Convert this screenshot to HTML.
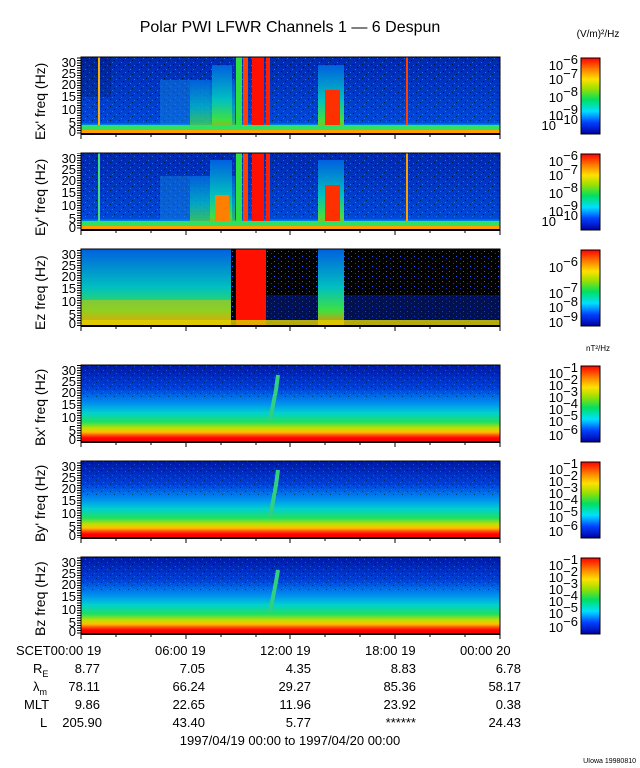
<!DOCTYPE html>
<html><head><style>
body{margin:0;background:#fff;}
svg{display:block;font-family:"Liberation Sans",sans-serif;}
</style></head><body>
<svg width="640" height="768" viewBox="0 0 640 768">
<defs>
<linearGradient id="cb" x1="0" y1="1" x2="0" y2="0">
<stop offset="0" stop-color="#0000a0"/><stop offset="0.15" stop-color="#0040ff"/>
<stop offset="0.3" stop-color="#00e0ff"/><stop offset="0.45" stop-color="#00e060"/>
<stop offset="0.6" stop-color="#a0e000"/><stop offset="0.72" stop-color="#ffe000"/>
<stop offset="0.85" stop-color="#ff8000"/><stop offset="1" stop-color="#ff0000"/>
</linearGradient>
<linearGradient id="bg" x1="0" y1="0" x2="0" y2="1">
<stop offset="0" stop-color="#0018a8"/><stop offset="0.3" stop-color="#0040d8"/>
<stop offset="0.5" stop-color="#0090f0"/><stop offset="0.62" stop-color="#00d0d0"/>
<stop offset="0.74" stop-color="#20e060"/><stop offset="0.82" stop-color="#c0e000"/>
<stop offset="0.87" stop-color="#ffc000"/><stop offset="0.92" stop-color="#ff4000"/>
<stop offset="0.95" stop-color="#ff0000"/><stop offset="1" stop-color="#ff0000"/>
</linearGradient>
<linearGradient id="eg" x1="0" y1="0" x2="0" y2="1">
<stop offset="0" stop-color="#0028b0"/><stop offset="0.85" stop-color="#0048d8"/>
<stop offset="0.9" stop-color="#00b0e8"/><stop offset="0.95" stop-color="#40e060"/>
<stop offset="1" stop-color="#ffd000"/>
</linearGradient>
<linearGradient id="gr" x1="0" y1="0" x2="0" y2="1">
<stop offset="0" stop-color="#0060e0"/><stop offset="0.5" stop-color="#00c0c0"/>
<stop offset="0.8" stop-color="#40e040"/><stop offset="1" stop-color="#ff8000"/>
</linearGradient>
<pattern id="dots" width="9" height="7" patternUnits="userSpaceOnUse">
<rect x="2" y="1" width="1" height="1" fill="#000"/><rect x="6" y="4" width="1" height="1" fill="#000"/><rect x="4" y="6" width="1" height="1" fill="#2090ff"/><rect x="8" y="2" width="1" height="1" fill="#2090ff"/>
</pattern>
<pattern id="spk" width="7" height="5" patternUnits="userSpaceOnUse">
<rect x="1" y="1" width="1" height="1" fill="#2060ff"/><rect x="5" y="3" width="1" height="1" fill="#1040c0"/>
</pattern>
<pattern id="yt" x="0" y="0" width="4" height="2.5" patternUnits="userSpaceOnUse">
<rect x="0" y="0" width="4" height="1" fill="#000"/>
</pattern>
<g id="xt" stroke="#000" stroke-width="1">
<line x1="81" y1="0" x2="81" y2="5"/><line x1="116" y1="0" x2="116" y2="3"/><line x1="151" y1="0" x2="151" y2="3"/><line x1="186" y1="0" x2="186" y2="5"/><line x1="221" y1="0" x2="221" y2="3"/><line x1="256" y1="0" x2="256" y2="3"/><line x1="290" y1="0" x2="290" y2="5"/><line x1="325" y1="0" x2="325" y2="3"/><line x1="360" y1="0" x2="360" y2="3"/><line x1="395" y1="0" x2="395" y2="5"/><line x1="430" y1="0" x2="430" y2="3"/><line x1="465" y1="0" x2="465" y2="3"/><line x1="500" y1="0" x2="500" y2="5"/>
</g>
</defs>
<text x="290" y="32" font-size="16" text-anchor="middle">Polar PWI LFWR Channels 1 — 6 Despun</text>
<text x="598" y="37" font-size="10" text-anchor="middle">(V/m)²/Hz</text>
<text x="598" y="351" font-size="8" text-anchor="middle">nT²/Hz</text>

<!-- Ex -->
<g>
<rect x="81" y="57" width="419" height="77" fill="url(#eg)"/>
<rect x="81" y="57" width="419" height="65" fill="url(#dots)" opacity="0.7"/>
<rect x="81" y="57" width="30" height="40" fill="#000" opacity="0.15"/>
<rect x="160" y="80" width="50" height="50" fill="#1080e0" opacity="0.5"/>
<rect x="190" y="80" width="45" height="54" fill="url(#gr)" opacity="0.7"/>
<rect x="212" y="65" width="20" height="69" fill="url(#gr)"/>
<rect x="236" y="57" width="6" height="77" fill="#30e040"/>
<rect x="243" y="57" width="5" height="77" fill="#ff4000"/>
<rect x="252" y="57" width="12" height="77" fill="#ff1000"/>
<rect x="266" y="57" width="4" height="77" fill="#ff2000"/>
<rect x="318" y="65" width="26" height="69" fill="url(#gr)"/>
<rect x="325" y="90" width="15" height="44" fill="#ff3000"/>
<rect x="98" y="57" width="2" height="77" fill="#ffb000"/>
<rect x="406" y="57" width="2" height="77" fill="#ff4000"/>
<rect x="81" y="125" width="419" height="5" fill="#30e060"/>
<rect x="81" y="130" width="419" height="4" fill="#ffa000"/>
</g>
<!-- Ey -->
<g>
<rect x="81" y="153" width="419" height="77" fill="url(#eg)"/>
<rect x="81" y="153" width="419" height="65" fill="url(#dots)" opacity="0.7"/>
<rect x="160" y="176" width="50" height="50" fill="#1080e0" opacity="0.5"/>
<rect x="190" y="176" width="45" height="54" fill="url(#gr)" opacity="0.7"/>
<rect x="210" y="160" width="22" height="70" fill="url(#gr)"/>
<rect x="215" y="195" width="14" height="35" fill="#ff8000"/>
<rect x="236" y="153" width="6" height="77" fill="#30e040"/>
<rect x="243" y="153" width="5" height="77" fill="#ff4000"/>
<rect x="252" y="153" width="12" height="77" fill="#ff1000"/>
<rect x="266" y="153" width="4" height="77" fill="#ff2000"/>
<rect x="318" y="160" width="26" height="70" fill="url(#gr)"/>
<rect x="325" y="185" width="15" height="45" fill="#ff3000"/>
<rect x="98" y="153" width="2" height="77" fill="#40e080"/>
<rect x="406" y="153" width="2" height="77" fill="#ffa000"/>
<rect x="81" y="221" width="419" height="5" fill="#30e060"/>
<rect x="81" y="226" width="419" height="4" fill="#ffa000"/>
</g>
<!-- Ez -->
<g>
<rect x="81" y="249" width="419" height="77" fill="#000"/>
<rect x="81" y="249" width="419" height="77" fill="url(#spk)"/>
<rect x="266" y="295" width="234" height="31" fill="#0020a0" opacity="0.5"/>
<rect x="81" y="249" width="150" height="77" fill="url(#gr)"/>
<rect x="81" y="300" width="150" height="26" fill="#e0c000" opacity="0.5"/>
<rect x="236" y="249" width="30" height="77" fill="#ff1000"/>
<rect x="318" y="249" width="26" height="77" fill="url(#gr)"/>
<rect x="81" y="320" width="419" height="6" fill="#e0d000" opacity="0.8"/>
</g>
<!-- B panels -->
<rect x="81" y="365" width="419" height="77" fill="url(#bg)"/>
<rect x="81" y="365" width="419" height="35" fill="url(#dots)" opacity="0.5"/>
<rect x="81" y="461" width="419" height="77" fill="url(#bg)"/>
<rect x="81" y="461" width="419" height="35" fill="url(#dots)" opacity="0.5"/>
<rect x="81" y="557" width="419" height="77" fill="url(#bg)"/>
<rect x="81" y="557" width="419" height="35" fill="url(#dots)" opacity="0.5"/>
<path d="M270 420 L276 390 L278 375" stroke="#30d080" stroke-width="4" fill="none"/>
<path d="M270 518 L276 485 L278 470" stroke="#30d080" stroke-width="4" fill="none"/>
<path d="M270 612 L276 582 L278 570" stroke="#30d080" stroke-width="4" fill="none"/>

<g stroke="#000" fill="none" stroke-width="1">
<rect x="81" y="57" width="419" height="77"/><rect x="81" y="153" width="419" height="77"/>
<rect x="81" y="249" width="419" height="77"/><rect x="81" y="365" width="419" height="77"/>
<rect x="81" y="461" width="419" height="77"/><rect x="81" y="557" width="419" height="77"/>
</g>
<g stroke="#000" stroke-width="2">
<line x1="81" y1="134" x2="500" y2="134"/><line x1="81" y1="230" x2="500" y2="230"/>
<line x1="81" y1="326" x2="500" y2="326"/><line x1="81" y1="442" x2="500" y2="442"/>
<line x1="81" y1="538" x2="500" y2="538"/><line x1="81" y1="634" x2="500" y2="634"/>
</g>
<use href="#xt" y="134"/><use href="#xt" y="230"/><use href="#xt" y="326"/><use href="#xt" y="442"/><use href="#xt" y="538"/><use href="#xt" y="634"/>
<!-- y minor ticks -->
<g fill="url(#yt)">
<rect x="77" y="57" width="4" height="77"/><rect x="77" y="153" width="4" height="77"/><rect x="77" y="249" width="4" height="77"/>
<rect x="77" y="365" width="4" height="77"/><rect x="77" y="461" width="4" height="77"/><rect x="77" y="557" width="4" height="77"/>
</g>

<g font-size="13" text-anchor="end" fill="#000">
<g id="yl">
<text x="76" y="67">30</text><text x="76" y="78">25</text><text x="76" y="89">20</text><text x="76" y="101">15</text><text x="76" y="114">10</text><text x="76" y="127">5</text><text x="76" y="136">0</text>
</g>
<use href="#yl" y="96"/><use href="#yl" y="192"/><use href="#yl" y="308"/><use href="#yl" y="404"/><use href="#yl" y="500"/>
</g>
<g font-size="14" fill="#000">
<text transform="translate(45,140) rotate(-90)">Ex' freq (Hz)</text>
<text transform="translate(45,236) rotate(-90)">Ey' freq (Hz)</text>
<text transform="translate(45,330) rotate(-90)">Ez freq (Hz)</text>
<text transform="translate(45,446) rotate(-90)">Bx' freq (Hz)</text>
<text transform="translate(45,542) rotate(-90)">By' freq (Hz)</text>
<text transform="translate(45,636) rotate(-90)">Bz freq (Hz)</text>
</g>

<!-- colorbars -->
<g stroke="#000" stroke-width="1">
<rect x="581" y="58" width="19" height="76" fill="url(#cb)"/>
<rect x="581" y="154" width="19" height="76" fill="url(#cb)"/>
<rect x="581" y="250" width="19" height="76" fill="url(#cb)"/>
<rect x="581" y="366" width="19" height="76" fill="url(#cb)"/>
<rect x="581" y="462" width="19" height="76" fill="url(#cb)"/>
<rect x="581" y="558" width="19" height="76" fill="url(#cb)"/>
</g>
<g font-size="13" text-anchor="end">
<text x="578" y="70">10<tspan dy="-6">−6</tspan></text><text x="578" y="84">10<tspan dy="-6">−7</tspan></text>
<text x="578" y="102">10<tspan dy="-6">−8</tspan></text><text x="578" y="120">10<tspan dy="-6">−9</tspan></text>
<text x="578" y="130">10<tspan dy="-6">−10</tspan></text>
<text x="578" y="166">10<tspan dy="-6">−6</tspan></text><text x="578" y="180">10<tspan dy="-6">−7</tspan></text>
<text x="578" y="198">10<tspan dy="-6">−8</tspan></text><text x="578" y="216">10<tspan dy="-6">−9</tspan></text>
<text x="578" y="226">10<tspan dy="-6">−10</tspan></text>
<text x="578" y="272">10<tspan dy="-6">−6</tspan></text><text x="578" y="298">10<tspan dy="-6">−7</tspan></text>
<text x="578" y="327">10<tspan dy="-6">−9</tspan></text><text x="578" y="312">10<tspan dy="-6">−8</tspan></text>
<text x="578" y="378">10<tspan dy="-6">−1</tspan></text><text x="578" y="390">10<tspan dy="-6">−2</tspan></text>
<text x="578" y="402">10<tspan dy="-6">−3</tspan></text><text x="578" y="414">10<tspan dy="-6">−4</tspan></text>
<text x="578" y="426">10<tspan dy="-6">−5</tspan></text><text x="578" y="440">10<tspan dy="-6">−6</tspan></text>
<text x="578" y="474">10<tspan dy="-6">−1</tspan></text><text x="578" y="486">10<tspan dy="-6">−2</tspan></text>
<text x="578" y="498">10<tspan dy="-6">−3</tspan></text><text x="578" y="510">10<tspan dy="-6">−4</tspan></text>
<text x="578" y="522">10<tspan dy="-6">−5</tspan></text><text x="578" y="536">10<tspan dy="-6">−6</tspan></text>
<text x="578" y="570">10<tspan dy="-6">−1</tspan></text><text x="578" y="582">10<tspan dy="-6">−2</tspan></text>
<text x="578" y="594">10<tspan dy="-6">−3</tspan></text><text x="578" y="606">10<tspan dy="-6">−4</tspan></text>
<text x="578" y="618">10<tspan dy="-6">−5</tspan></text><text x="578" y="632">10<tspan dy="-6">−6</tspan></text>
</g>

<g font-size="13" fill="#000">
<text x="16" y="655">SCET00:00 19</text>
<text x="155" y="655">06:00 19</text>
<text x="260" y="655">12:00 19</text>
<text x="365" y="655">18:00 19</text>
<text x="460" y="655">00:00 20</text>
<text x="33" y="673">R<tspan font-size="9" dy="4">E</tspan></text>
<text x="33" y="691">λ<tspan font-size="9" dy="4">m</tspan></text>
<text x="24" y="709">MLT</text>
<text x="40" y="727">L</text>
</g>
<g font-size="13" text-anchor="end">
<text x="100" y="673">8.77</text><text x="205" y="673">7.05</text><text x="311" y="673">4.35</text><text x="416" y="673">8.83</text><text x="521" y="673">6.78</text>
<text x="100" y="691">78.11</text><text x="205" y="691">66.24</text><text x="311" y="691">29.27</text><text x="416" y="691">85.36</text><text x="521" y="691">58.17</text>
<text x="100" y="709">9.86</text><text x="205" y="709">22.65</text><text x="311" y="709">11.96</text><text x="416" y="709">23.92</text><text x="521" y="709">0.38</text>
<text x="102" y="727">205.90</text><text x="205" y="727">43.40</text><text x="311" y="727">5.77</text><text x="416" y="727">******</text><text x="521" y="727">24.43</text>
</g>
<text x="290" y="745" font-size="13" text-anchor="middle">1997/04/19 00:00 to 1997/04/20 00:00</text>
<text x="636" y="763" font-size="7" text-anchor="end">UIowa 19980810</text>
</svg>
</body></html>
